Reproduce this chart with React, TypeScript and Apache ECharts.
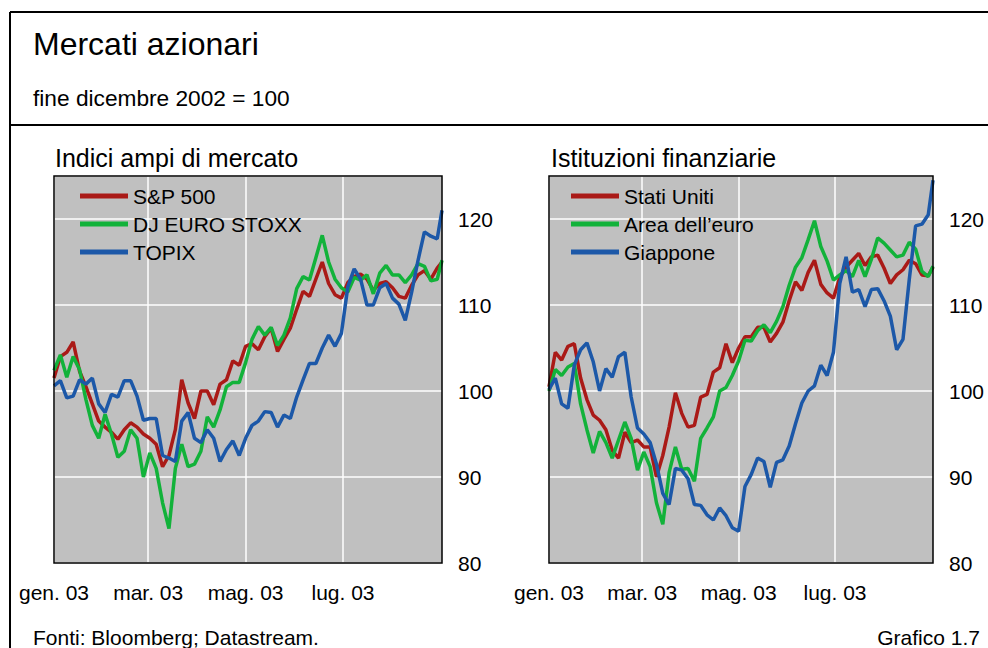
import React, { useEffect, useRef } from 'react';
import * as echarts from 'echarts';

// Day offsets from 1 Jan 2003 (shared by both panels)
const days = [0, 4, 8, 12, 16, 20, 24, 28, 32, 36, 40, 44, 48, 52, 56, 60, 64, 68, 72, 76, 80, 84, 88, 92, 96, 100, 104, 108, 112, 116, 120, 124, 128, 132, 136, 140, 144, 148, 152, 156, 160, 164, 168, 172, 176, 180, 184, 188, 192, 196, 200, 204, 208, 212, 216, 220, 224, 228, 232, 236, 240, 243];

// Month ticks (day offsets) and their labels
const monthTicks = [0, 59, 120, 181];
const monthLabels = ['gen. 03', 'mar. 03', 'mag. 03', 'lug. 03'];

// Left panel: Indici ampi di mercato
const leftNames = ['S&P 500', 'DJ EURO STOXX', 'TOPIX'];
const sp500 = [101.5, 104, 104.5, 105.7, 102.3, 100.5, 98.5, 96.5, 95.8, 95.2,
  94.4, 95.5, 96.3, 95.8, 95, 94.5, 93.8, 91.2, 92.5, 95.5,
  101.3, 98.6, 96.8, 100, 100, 98.4, 100.8, 101.3, 103.5, 103,
  105.2, 105.5, 104.8, 106.3, 107.3, 104.6, 106, 107.3, 109.5, 111.6,
  111, 113, 115, 112.5, 111.2, 110.8, 112.6, 113.3, 113.6, 113,
  111.7, 112.5, 112.7, 112, 111, 110.8, 112.3, 113.5, 114, 113,
  114.3, 115];
const djEuroStoxx = [102.4, 104.2, 101.6, 104, 102.5, 99, 96, 94.5, 97.3, 95,
  92.3, 93, 95.5, 94.5, 90, 92.8, 91, 87, 84, 91,
  93.8, 91.2, 91.5, 93, 97, 95.8, 97.8, 100.5, 101, 101,
  103.3, 106, 107.5, 106.5, 107.4, 105.3, 106.5, 108.5, 111.9, 113.3,
  112.9, 115.5, 118.1, 115, 113, 112, 111.5, 113.2, 112.9, 113.5,
  111.3, 113.7, 114.6, 113.5, 113.5, 112.6, 113.5, 114.8, 114.5, 112.8,
  113, 115.2];
const topix = [100.6, 101.2, 99.2, 99.4, 101.3, 100.8, 101.5, 98.5, 97.5, 99.6,
  99.3, 101.2, 101.2, 99.4, 96.6, 96.8, 96.8, 92.5, 92.2, 91.8,
  96.5, 97.5, 94.5, 94, 95.5, 94.5, 91.8, 93.2, 94.2, 92.5,
  94.5, 96, 96.5, 97.6, 97.5, 95.8, 97.2, 96.8, 99.3, 101.3,
  103.2, 103.2, 105, 106.5, 105.2, 106.7, 112.1, 114.2, 113, 110,
  110, 112, 112.5, 110.8, 110.1, 108.2, 111.5, 115.2, 118.5, 118,
  117.7, 121];

// Right panel: Istituzioni finanziarie
const rightNames = ['Stati Uniti', 'Area dell\u2019euro', 'Giappone'];
const statiUniti = [100.5, 104.5, 103.6, 105.2, 105.5, 101.5, 99, 97.2, 96.6, 95.5,
  93.1, 92.2, 95.2, 94, 94.3, 93.5, 93.5, 90, 92.5, 95.8,
  99.8, 97.4, 95.8, 96, 99.3, 99.6, 102.2, 102.7, 105.5, 103.3,
  105, 106.3, 106.3, 107.4, 107.4, 105.7, 106.7, 108, 110.5, 112.7,
  111.7, 113.8, 115.2, 112.4, 111.4, 110.8, 113.2, 114.4, 115.2, 116,
  114.6, 115.6, 115.8, 114.3, 112.5, 113.5, 114.1, 115.2, 114.8, 113.5,
  113.4, 114.4];
const areaEuro = [100, 102.5, 101.8, 102.8, 103.2, 98.5, 95.5, 92.8, 95.3, 94,
  92.2, 94.3, 96.4, 94.5, 90.8, 92.9, 91.2, 87, 84.5, 90.5,
  93.5, 90.9, 91, 89.5, 94.5, 95.7, 97, 100, 100.4, 101.8,
  103.5, 105.9, 105.8, 107, 107.7, 106.8, 108.1, 109.8, 112.3, 114.4,
  115.5, 117.6, 119.8, 116.8, 115.1, 112.9, 113.5, 114, 113.3, 115.2,
  113.3, 115.3, 117.8, 117.2, 116.4, 115.6, 115.8, 117.3, 116.5, 113.9,
  113.3, 114.5];
const giappone = [100.2, 101.5, 98.5, 98, 103, 104.8, 105.6, 103.4, 100, 102.6,
  101.6, 104, 104.5, 99.3, 95.7, 95, 94, 91.5, 88.1, 86.8,
  91, 90.8, 89.8, 86.8, 86.7, 85.6, 85, 86.4, 85.5, 84.1,
  83.7, 88.9, 90.3, 92.2, 91.8, 88.8, 91.7, 92, 93.6, 96.2,
  98.6, 100, 100.6, 103, 101.8, 104.5, 112.5, 115.6, 111.5, 111.8,
  109.8, 111.8, 111.9, 110.5, 108.7, 104.8, 106, 113, 119.2, 119.4,
  120.5, 124.5];

const COLORS = ['#AA1A17', '#12B23A', '#1C58A8'];
const FONT = 'Arial, "Liberation Sans", Helvetica, sans-serif';
const GRIDS = [
  { left: 54, top: 176, width: 388, height: 387 },
  { left: 549, top: 176, width: 384, height: 387 },
];

const pairs = (vals: number[]) => days.map((d, i) => [d, vals[i]]);

export default function App() {
  const ref = useRef<HTMLDivElement>(null);
  useEffect(() => {
    document.body.style.margin = '0';
    const chart = echarts.init(ref.current!, null, { renderer: 'svg' });

    const xAxis = (gi: number) => ({
      type: 'value', gridIndex: gi, min: 0, max: 243,
      axisLine: { show: false },
      axisTick: { show: false, customValues: monthTicks },
      axisLabel: {
        customValues: monthTicks,
        formatter: (v: number) => {
          const i = monthTicks.indexOf(Math.round(v));
          return i >= 0 ? monthLabels[i] : '';
        },
        color: '#000', fontSize: 21, fontFamily: FONT, margin: 19,
      },
      splitLine: { show: true, lineStyle: { color: '#fff', width: 1.5 } },
    });
    const yAxis = (gi: number) => ({
      type: 'value', gridIndex: gi, position: 'right', min: 80, max: 125, interval: 10,
      axisLine: { show: false }, axisTick: { show: false },
      axisLabel: { color: '#000', fontSize: 21, fontFamily: FONT, margin: 16, showMaxLabel: false },
      splitLine: { show: true, lineStyle: { color: '#fff', width: 1.5 } },
    });
    const line = (name: string, vals: number[], gi: number, ci: number) => ({
      type: 'line', name, xAxisIndex: gi, yAxisIndex: gi, data: pairs(vals),
      showSymbol: false, symbol: 'none', lineStyle: { width: 3.5, color: COLORS[ci] },
      itemStyle: { color: COLORS[ci] }, z: 2 + ci,
    });
    const legend = (names: string[], left: number) => ({
      data: names, left, top: 185, orient: 'vertical', icon: 'rect',
      itemWidth: 48, itemHeight: 5, itemGap: 6, padding: 0, selectedMode: false,
      textStyle: { color: '#000', fontSize: 21, fontFamily: FONT, lineHeight: 22 },
    });
    const txt = (text: string, x: number, y: number, size: number, align = 'left') => ({
      type: 'text', x, y, z: 10,
      style: { text, fill: '#000', fontSize: size, fontFamily: FONT, align, verticalAlign: 'middle' },
    });
    const ln = (x1: number, y1: number, x2: number, y2: number) => ({
      type: 'line', shape: { x1, y1, x2, y2 }, style: { stroke: '#000', lineWidth: 2 }, z: 10,
    });
    const border = (g: any) => ({
      type: 'rect', shape: { x: g.left, y: g.top, width: g.width, height: g.height },
      style: { fill: 'none', stroke: '#000', lineWidth: 1.5 }, z: 100,
    });

    chart.setOption({
      animation: false,
      backgroundColor: '#fff',
      grid: GRIDS.map((g) => ({ ...g, show: true, backgroundColor: '#C0C0C0', borderWidth: 0 })),
      xAxis: [xAxis(0), xAxis(1)],
      yAxis: [yAxis(0), yAxis(1)],
      legend: [legend(leftNames, 80), legend(rightNames, 571)],
      series: [
        line(leftNames[0], sp500, 0, 0),
        line(leftNames[1], djEuroStoxx, 0, 1),
        line(leftNames[2], topix, 0, 2),
        line(rightNames[0], statiUniti, 1, 0),
        line(rightNames[1], areaEuro, 1, 1),
        line(rightNames[2], giappone, 1, 2),
      ],
      graphic: [
        ln(10, 12, 988, 12),
        ln(10, 12, 10, 648),
        ln(10, 125, 988, 125),
        border(GRIDS[0]),
        border(GRIDS[1]),
        txt('Mercati azionari', 33, 44, 32),
        txt('fine dicembre 2002 = 100', 33, 98, 22.7),
        txt('Indici ampi di mercato', 55, 158, 25),
        txt('Istituzioni finanziarie', 551, 158, 25),
        txt('Fonti: Bloomberg; Datastream.', 33, 637, 21),
        txt('Grafico 1.7', 980, 637, 21, 'right'),
      ],
    });
    return () => chart.dispose();
  }, []);
  return <div ref={ref} style={{ width: 988, height: 648 }} />;
}
